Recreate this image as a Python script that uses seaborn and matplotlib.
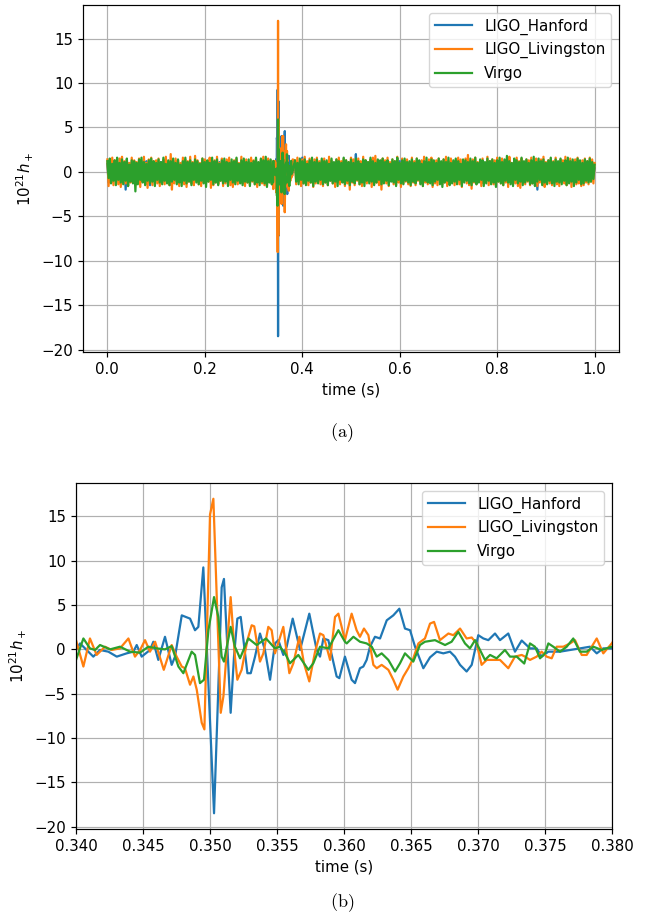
import numpy as np
import pandas as pd
import seaborn as sns
import matplotlib.pyplot as plt

detectors = ["LIGO_Hanford", "LIGO_Livingston", "Virgo"]
colors = ["#1f77b4", "#ff7f0e", "#2ca02c"]

# noise before/after the event: the band is drawn as
# crest samples at t0 + k*5ms and trough samples half a step later
noise_step = 0.005
noise_a_start = 0.0
noise_b_start = 0.385

hanford_upper_a = [
    0.9, 0.6, 1.1, 0.8, 0.7, 1.0, 0.5, 0.9, 0.6, 1.0, 0.7, 1.1,
    0.8, 1.0, 0.5, 0.9, 1.2, 0.6, 0.8, 1.0, 0.7, 0.9, 1.1, 0.6,
    0.8, 1.0, 0.5, 0.9, 1.2, 0.7, 0.6, 1.0, 0.8, 0.9, 1.1, 0.7,
    0.5, 1.0, 0.9, 0.6, 1.2, 0.8, 0.7, 1.0, 0.9, 0.6, 1.1, 0.8,
    0.5, 1.0, 0.7, 0.9, 1.2, 0.6, 0.8, 1.0, 0.7, 1.1, 0.9, 0.6,
    0.8, 1.0, 0.7, 0.9, 1.1, 0.6, 0.8, 0.9]
hanford_lower_a = [
    -1.2, -0.8, -0.5, -0.9, -0.6, -1.1, -0.7, -2.0, -0.9, -0.6, -1.0, -0.8,
    -1.1, -0.7, -0.9, -0.5, -1.0, -1.5, -0.8, -0.6, -0.9, -1.1, -0.4, -0.9,
    -0.6, -1.0, -0.8, -0.7, -1.1, -0.5, -0.9, -0.7, -1.0, -0.6, -1.1, -0.8,
    -0.9, -0.6, -1.2, -0.5, -0.8, -1.0, -0.7, -0.9, -1.1, -0.6, -0.8, -1.0,
    -0.7, -0.9, -1.1, -0.6, -0.8, -1.0, -0.7, -1.2, -0.6, -0.9, -0.8, -1.0,
    -0.9, -0.7, -1.0, -0.6, -0.8, -1.1, -0.7, -0.9]
hanford_upper_b = [
    0.8, 1.0, 0.9, 1.6, 0.7, 0.9, 1.1, 0.6, 0.8, 1.0, 0.5, 0.9,
    1.0, 0.7, 0.6, 1.1, 0.9, 0.5, 0.8, 1.0, 1.2, 0.8, 0.6, 0.9,
    0.7, 2.0, 0.9, 0.6, 1.0, 0.8, 0.5, 1.1, 0.8, 0.7, 1.3, 0.9,
    0.6, 1.0, 0.9, 0.5, 1.1, 0.8, 0.7, 1.2, 0.6, 0.9, 1.0, 0.7,
    0.8, 1.0, 0.5, 0.9, 1.2, 0.6, 0.9, 1.1, 0.7, 0.8, 1.0, 0.6,
    0.9, 1.0, 0.6, 0.8, 1.1, 0.7, 0.5, 1.2, 0.8, 0.9, 1.0, 0.6,
    0.7, 1.1, 0.9, 0.5, 1.0, 0.8, 0.6, 1.0, 1.2, 0.7, 0.8, 0.9,
    0.6, 1.1, 1.0, 0.7, 0.9, 0.8, 0.5, 1.0, 1.1, 0.6, 0.8, 1.2,
    0.7, 0.9, 1.0, 0.6, 0.8, 0.6, 1.0, 0.9, 0.7, 1.1, 0.8, 0.5,
    1.0, 0.8, 0.6, 1.0, 0.9, 0.7, 1.1, 0.6, 0.8, 1.0, 0.7, 0.9,
    1.0, 0.6, 0.8, 0.4]
hanford_lower_b = [
    -0.4, -0.7, -0.3, -0.5, -1.0, -0.8, -0.9, -0.6, -0.9, -0.4, -0.7, -1.0,
    -0.6, -0.3, -0.8, -1.1, -0.5, -0.7, -0.9, -0.7, -0.4, -0.9, -1.1, -0.5,
    -0.3, -0.8, -0.7, -0.4, -1.0, -0.6, -0.8, -1.0, -0.8, -0.3, -0.5, -0.9,
    -1.1, -0.5, -0.4, -0.7, -0.9, -1.0, -0.3, -0.6, -0.7, -0.8, -1.0, -0.8,
    -0.5, -0.9, -0.6, -0.4, -1.1, -0.7, -0.9, -0.5, -0.8, -1.0, -0.4, -0.3,
    -0.9, -0.6, -0.7, -1.1, -0.3, -0.8, -1.0, -0.4, -0.5, -0.9, -0.6, -0.8,
    -0.8, -1.0, -0.4, -0.7, -1.1, -0.3, -0.6, -0.9, -0.7, -0.5, -1.0, -0.8,
    -0.7, -0.4, -0.9, -1.1, -0.5, -0.6, -0.3, -1.0, -0.8, -0.9, -0.6, -0.7,
    -1.0, -0.5, -0.4, -2.0, -0.7, -0.3, -1.1, -0.8, -0.6, -0.6, -0.9, -1.0,
    -0.5, -0.4, -0.8, -0.7, -0.3, -1.1, -0.6, -0.5, -1.0, -0.9, -0.4, -0.8,
    -0.7, -0.6, -0.3]

livingston_upper_a = [
    1.4, 1.1, 1.6, 1.3, 1.0, 1.5, 1.7, 1.2, 1.4, 1.0, 1.6, 1.3,
    1.1, 1.5, 1.2, 1.7, 1.0, 1.4, 1.6, 1.2, 1.3, 1.5, 1.0, 1.4,
    1.7, 1.2, 2.0, 1.1, 1.5, 1.3, 1.0, 1.6, 1.4, 1.2, 1.7, 1.1,
    1.8, 1.3, 1.0, 1.5, 1.4, 1.2, 1.6, 1.1, 1.3, 1.7, 1.0, 1.5,
    1.2, 1.4, 1.6, 1.1, 1.3, 1.5, 1.0, 1.7, 1.2, 1.4, 1.1, 1.6,
    1.3, 1.5, 1.0, 1.4, 1.7, 1.2, 1.5, 1.3]
livingston_lower_a = [
    -1.6, -1.2, -1.5, -1.0, -1.4, -1.7, -1.1, -1.3, -1.6, -1.2, -1.0, -1.5,
    -1.3, -1.7, -1.1, -1.4, -1.8, -1.2, -1.5, -1.0, -1.3, -1.6, -1.2, -1.4,
    -1.1, -1.5, -2.0, -1.3, -1.0, -1.6, -1.2, -1.4, -1.7, -1.1, -1.3, -1.5,
    -1.0, -1.4, -1.6, -1.2, -1.3, -1.1, -1.8, -1.5, -1.2, -1.4, -1.0, -1.6,
    -1.3, -1.1, -1.5, -1.7, -1.2, -1.4, -1.0, -1.3, -1.6, -1.2, -1.5, -1.1,
    -1.4, -1.7, -1.2, -1.3, -1.5, -1.6, -1.1, -1.4]
livingston_upper_b = [
    1.3, 1.6, 1.1, 1.4, 1.7, 1.2, 1.5, 1.0, 1.4, 1.6, 1.2, 1.3,
    1.5, 1.1, 1.7, 1.3, 1.0, 1.4, 1.6, 1.2, 1.5, 1.3, 1.1, 1.6,
    1.4, 1.0, 1.5, 1.2, 1.7, 1.3, 1.1, 1.4, 1.6, 1.8, 1.2, 1.0,
    1.5, 1.3, 1.6, 1.1, 1.4, 1.2, 1.7, 1.0, 1.5, 1.3, 1.4, 1.1,
    1.6, 1.2, 1.5, 1.0, 1.3, 1.7, 1.1, 1.4, 1.6, 1.2, 1.3, 1.5,
    1.0, 1.4, 1.7, 1.2, 1.5, 1.1, 1.3, 1.6, 1.4, 1.0, 1.5, 1.9,
    1.2, 1.4, 1.6, 1.1, 1.3, 1.5, 1.0, 1.7, 1.2, 1.4, 1.3, 1.6,
    1.1, 1.5, 1.2, 1.4, 1.7, 1.0, 1.3, 1.6, 1.2, 1.5, 1.1, 1.4,
    1.3, 1.6, 1.0, 1.5, 1.2, 1.4, 1.7, 1.1, 1.3, 1.5, 1.2, 1.6,
    1.0, 1.4, 1.3, 1.7, 1.1, 1.5, 1.2, 1.4, 1.6, 1.0, 1.3, 1.5,
    1.2, 1.6, 1.4, 1.0]
livingston_lower_b = [
    -1.4, -1.1, -1.6, -1.3, -1.0, -1.5, -1.2, -1.7, -1.3, -1.1, -1.4, -1.6,
    -1.2, -1.5, -1.0, -1.3, -1.7, -1.2, -1.4, -1.1, -1.6, -1.3, -2.0, -1.2,
    -1.5, -1.0, -1.4, -1.6, -1.2, -1.3, -1.1, -1.7, -1.4, -1.2, -1.5, -2.0,
    -1.1, -1.3, -1.6, -1.0, -1.4, -1.5, -1.2, -1.7, -1.3, -1.1, -1.4, -1.6,
    -1.2, -1.5, -1.0, -1.3, -1.6, -1.2, -1.4, -1.1, -1.7, -1.3, -1.5, -1.0,
    -1.4, -1.2, -1.6, -1.3, -1.1, -1.5, -1.2, -1.4, -1.7, -1.0, -1.3, -1.5,
    -1.9, -1.2, -1.4, -1.1, -1.6, -1.3, -1.0, -1.5, -1.2, -1.4, -1.6, -1.1,
    -1.3, -1.5, -1.2, -1.7, -1.0, -1.4, -1.3, -1.6, -1.8, -1.2, -1.4, -1.1,
    -1.5, -1.3, -1.0, -1.6, -1.2, -1.4, -1.7, -1.1, -1.3, -1.5, -1.2, -1.4,
    -1.6, -1.0, -1.3, -1.5, -1.2, -1.7, -1.1, -1.4, -1.3, -1.6, -1.5, -1.2,
    -1.4, -1.1, -1.3]

virgo_upper_a = [
    1.2, 1.5, 0.9, 1.3, 1.6, 1.0, 1.4, 1.1, 1.5, 0.8, 1.3, 1.2,
    1.0, 1.4, 1.6, 1.1, 0.9, 1.3, 1.5, 1.2, 1.0, 1.4, 1.1, 1.6,
    0.9, 1.3, 1.2, 1.5, 1.0, 1.4, 0.8, 1.2, 1.6, 1.1, 1.3, 1.0,
    1.4, 1.2, 0.9, 1.5, 1.1, 1.3, 1.0, 1.6, 1.2, 1.4, 0.9, 1.3,
    1.5, 1.1, 1.0, 1.4, 1.2, 1.6, 0.9, 1.3, 1.5, 1.1, 1.4, 1.0,
    1.2, 1.6, 1.1, 1.5, 1.3, 1.7, 1.2, 1.4]
virgo_lower_a = [
    -0.7, -1.3, -1.0, -1.5, -0.9, -1.2, -1.4, -1.0, -1.6, -1.1, -1.3, -2.2,
    -1.4, -0.9, -1.2, -1.5, -1.0, -1.3, -1.1, -1.6, -0.9, -1.2, -1.4, -1.0,
    -1.3, -1.5, -1.1, -0.9, -1.4, -1.2, -1.6, -1.0, -1.3, -1.1, -1.5, -0.9,
    -1.2, -1.4, -1.0, -1.3, -1.7, -1.1, -0.9, -1.4, -1.2, -1.5, -1.0, -1.3,
    -1.1, -1.6, -0.9, -1.2, -1.4, -1.0, -1.3, -1.5, -1.1, -1.2, -1.6, -1.0,
    -1.4, -1.2, -1.5, -1.1, -1.3, -1.7, -1.2, -1.4]
virgo_upper_b = [
    1.3, 1.0, 1.5, 1.2, 1.4, 0.9, 1.3, 1.6, 1.1, 1.4, 1.0, 1.5,
    1.2, 1.3, 0.9, 1.5, 1.1, 1.4, 1.2, 1.0, 1.6, 1.3, 1.1, 1.4,
    1.0, 1.5, 1.2, 0.9, 1.4, 1.3, 1.1, 1.6, 1.2, 1.0, 1.4, 1.3,
    1.5, 1.1, 1.3, 0.9, 1.4, 1.2, 1.6, 1.0, 1.3, 1.5, 1.1, 1.2,
    1.4, 1.0, 1.5, 1.3, 0.9, 1.2, 1.6, 1.1, 1.4, 1.3, 1.0, 1.5,
    1.2, 1.4, 1.1, 1.6, 1.0, 1.3, 1.5, 1.2, 0.9, 1.4, 1.3, 1.1,
    1.5, 1.2, 1.6, 1.0, 1.4, 1.3, 1.1, 1.5, 1.2, 1.4, 1.0, 1.3,
    1.6, 1.1, 1.4, 1.8, 1.2, 1.0, 1.5, 1.3, 1.1, 1.6, 1.2, 1.4,
    1.0, 1.3, 1.7, 1.1, 1.5, 1.2, 1.4, 1.0, 1.3, 1.6, 1.1, 1.4,
    1.2, 1.5, 1.0, 1.3, 1.6, 1.2, 1.4, 1.1, 1.5, 1.3, 1.0, 1.4,
    1.2, 1.5, 1.1, 0.8]
virgo_lower_b = [
    -1.1, -1.4, -0.9, -1.3, -1.5, -1.0, -1.2, -1.6, -1.1, -1.3, -0.9, -1.4,
    -1.2, -1.5, -1.0, -1.3, -1.1, -1.6, -0.9, -1.2, -1.4, -1.0, -1.5, -1.1,
    -1.3, -0.9, -1.4, -1.2, -1.6, -1.0, -1.3, -1.1, -1.5, -1.2, -0.9, -1.4,
    -1.3, -1.0, -1.5, -1.1, -1.2, -1.6, -0.9, -1.3, -1.4, -1.0, -1.2, -1.5,
    -1.1, -1.3, -0.9, -1.4, -1.6, -1.0, -1.2, -1.3, -1.5, -1.1, -0.9, -1.4,
    -1.7, -1.2, -1.0, -1.5, -1.3, -1.1, -1.4, -0.9, -1.6, -1.2, -1.0, -1.3,
    -1.5, -1.1, -1.4, -1.2, -0.9, -1.6, -1.3, -1.0, -1.4, -1.2, -1.7, -1.1,
    -1.3, -1.5, -1.0, -1.2, -1.4, -1.6, -0.9, -1.3, -1.1, -1.5, -1.2, -1.0,
    -1.4, -1.3, -1.6, -1.1, -0.9, -1.5, -1.2, -1.4, -1.0, -1.3, -1.6, -1.1,
    -1.2, -1.4, -1.0, -1.5, -1.3, -1.1, -1.6, -1.2, -0.9, -1.4, -1.3, -1.0,
    -1.2, -1.1, -0.8]

# the event itself: time in ms after 0.340 s, strain
zoom_origin = 0.340
hanford_t_ms = [
    -0.3, 0.00, 0.30, 1.29, 1.79, 2.41, 3.04, 3.78, 4.28, 4.53, 4.90, 5.52,
    5.77, 6.14, 6.64, 7.14, 7.39, 7.89, 8.51, 8.88, 9.13, 9.50, 10.30, 10.55,
    10.87, 11.04, 11.54, 11.79, 12.04, 12.29, 12.79, 13.04, 13.36, 13.73, 14.10, 14.48,
    14.85, 15.10, 15.47, 15.72, 16.17, 16.72, 17.41, 17.96, 18.21, 18.46, 18.83, 19.45,
    19.65, 20.07, 20.57, 20.82, 21.19, 21.44, 21.69, 21.94, 22.31, 22.69, 23.19, 23.68,
    24.13, 24.55, 24.93, 25.30, 25.92, 26.42, 26.92, 27.41, 27.91, 28.28, 28.66, 29.15,
    29.53, 30.02, 30.40, 30.77, 31.27, 31.64, 32.26, 32.76, 33.26, 33.88, 34.38, 34.75,
    35.25, 35.62, 36.12, 36.87, 37.61, 38.36, 38.86, 39.35, 39.98, 40.30]
hanford_zoom = [
    0.3, -0.07, 0.67, -0.82, -0.07, -0.26, -0.82, -0.45, -0.26, 0.49, -0.82, -0.07,
    0.86, -1.19, 1.42, -1.75, -0.82, 3.84, 3.47, 2.16, 2.54, 9.25, -18.5, -7.5,
    7.0, 7.95, -7.16, -0.82, 3.47, 3.66, -2.69, -2.69, -0.82, 1.79, -0.07, -3.43,
    0.67, 1.04, -0.63, 0.30, 3.47, -0.07, 4.03, -0.07, -0.82, 1.23, 1.04, -3.06,
    -3.25, -0.82, -3.43, -3.81, -2.13, -1.94, -1.19, 0.30, 1.42, 1.23, 3.28, 3.84,
    4.59, 2.35, 2.16, 0.30, -2.13, -0.9, -0.26, -0.45, -0.26, -0.82, -1.75, -2.50,
    -1.75, 1.60, 1.23, 1.04, 1.79, 1.04, 1.79, -0.26, 1.0, 0.11, 0.11, -0.82,
    -0.26, -0.26, -0.26, -0.07, 0.11, 0.30, -0.45, 0.11, 0.11, -0.07]

livingston_t_ms = [
    -0.3, 0.00, 0.55, 1.04, 1.54, 2.16, 2.66, 3.28, 3.91, 4.40, 4.78, 5.15,
    5.52, 5.90, 6.55, 7.14, 7.51, 7.89, 8.13, 8.51, 8.76, 9.01, 9.38, 9.58,
    10.00, 10.25, 10.80, 11.00, 11.54, 11.86, 12.04, 12.36, 12.79, 13.11, 13.30, 13.73,
    13.98, 14.35, 14.60, 14.85, 15.47, 15.92, 16.22, 16.67, 17.01, 17.41, 17.84, 18.21,
    18.46, 18.96, 19.33, 19.58, 20.07, 20.57, 20.94, 21.19, 21.49, 21.82, 22.19, 22.44,
    22.81, 23.31, 23.68, 24.00, 24.43, 24.80, 25.17, 25.55, 26.04, 26.42, 26.72, 27.16,
    27.79, 28.16, 28.66, 29.15, 29.53, 29.90, 30.27, 30.65, 31.14, 31.64, 32.26, 32.76,
    33.26, 33.51, 33.88, 34.38, 34.75, 35.12, 35.50, 35.87, 36.37, 36.87, 37.24, 37.74,
    38.11, 38.86, 39.35, 39.98, 40.30]
livingston_zoom = [
    0.0, 1.04, -1.94, 1.23, -0.63, 0.30, -0.07, 0.11, 1.23, -0.82, -0.07, 1.04,
    -0.26, 0.86, -2.31, 0.49, -0.82, -1.94, -2.13, -3.99, -3.06, -4.55, -8.28, -9.03,
    15.22, 17.0, -7.16, -5.30, 5.90, -0.82, -3.43, -2.31, 1.04, 2.72, 2.6, -1.38,
    -0.45, 2.54, 2.16, -0.45, 2.54, -2.69, -1.57, 1.42, -1.57, -3.62, -0.26, 1.79,
    1.60, -1.19, 3.66, 4.03, 1.04, 4.03, 2.16, 1.42, 2.35, 1.60, -1.75, -2.13,
    -1.75, -2.31, -3.43, -4.55, -3.06, -2.13, -1.01, 0.67, 1.23, 2.91, 3.10, 1.04,
    1.79, 1.60, 2.35, 1.23, 1.34, 0.67, -1.75, -1.19, -1.19, -1.19, -2.13, -0.82,
    -0.63, -0.82, -1.19, -0.82, -0.26, -0.82, -1.01, 0.30, 0.30, 0.67, 1.04, -0.63,
    -0.63, 1.23, -0.45, 0.67, 1.4]

virgo_t_ms = [
    -0.3, 0.00, 0.55, 1.04, 1.42, 1.79, 2.54, 3.28, 4.03, 4.78, 5.40, 6.02,
    6.64, 7.14, 7.64, 8.01, 8.63, 8.88, 9.25, 9.55, 9.88, 10.30, 10.62, 10.87,
    11.04, 11.54, 11.86, 12.24, 12.86, 13.48, 14.18, 14.85, 15.22, 15.60, 15.97, 16.59,
    17.34, 17.71, 18.21, 18.83, 19.58, 20.07, 20.20, 20.70, 21.19, 21.69, 22.07, 22.44,
    22.81, 23.31, 23.81, 24.18, 24.55, 25.17, 25.67, 26.04, 26.79, 27.54, 28.03, 28.53,
    29.03, 29.40, 29.78, 30.15, 30.52, 30.90, 31.39, 32.01, 32.39, 32.89, 33.45, 33.88,
    34.25, 34.63, 35.00, 35.25, 35.62, 36.12, 36.62, 37.11, 37.61, 38.11, 38.61, 39.23,
    39.60, 39.98, 40.30]
virgo_zoom = [
    -0.5, -1.19, 1.23, 0.11, -0.07, 0.49, 0.0, 0.30, -0.26, -0.37, 0.30, 0.11,
    0.0, 0.37, -1.94, -2.69, -0.26, -0.63, -3.81, -3.43, 2.16, 5.90, 3.66, -0.82,
    -1.38, 2.54, 0.30, -1.01, 1.23, 0.49, 1.23, 0.11, 0.30, -0.45, -1.57, -0.63,
    -2.31, -1.57, 0.30, 0.11, 2.16, 0.86, 0.67, 1.42, 0.86, 0.67, 0.30, -0.82,
    -0.45, -1.19, -2.50, -1.57, -0.45, -1.38, 0.49, 0.86, 1.04, 0.49, 0.86, 1.98,
    0.67, 0.11, 1.04, -0.07, -1.19, -0.63, -1.01, -0.07, -0.82, -0.82, -1.6, 0.67,
    0.30, -1.01, -0.45, 0.67, 0.30, -0.26, 0.30, 1.23, -0.26, -0.26, 0.30, -0.07,
    0.11, 0.30, 0.2]

noise_sets = [
    (hanford_upper_a, hanford_lower_a, hanford_upper_b, hanford_lower_b),
    (livingston_upper_a, livingston_lower_a, livingston_upper_b, livingston_lower_b),
    (virgo_upper_a, virgo_lower_a, virgo_upper_b, virgo_lower_b),
]
zoom_t = [hanford_t_ms, livingston_t_ms, virgo_t_ms]
zoom_h = [hanford_zoom, livingston_zoom, virgo_zoom]


def samples(start, values):
    return pd.DataFrame({"time": start + noise_step * np.arange(len(values)),
                         "strain": values})


full_parts, zoom_parts = [], []
for name, (ua, la, ub, lb), tz, hz in zip(detectors, noise_sets, zoom_t, zoom_h):
    z = pd.DataFrame({"time": zoom_origin + np.array(tz) / 1000.0, "strain": hz})
    zoom_parts.append(z.assign(detector=name))
    full = pd.concat([
        samples(noise_a_start, ua), samples(noise_a_start + noise_step / 2, la),
        z,
        samples(noise_b_start, ub), samples(noise_b_start + noise_step / 2, lb),
    ]).sort_values("time")
    full_parts.append(full.assign(detector=name))
df_full = pd.concat(full_parts, ignore_index=True)
df_zoom = pd.concat(zoom_parts, ignore_index=True)

plt.rcParams["font.size"] = 10.8
plt.rcParams["axes.linewidth"] = 0.86

fig = plt.figure(figsize=(6.47, 9.15), dpi=100)
ax1 = fig.add_axes([0.1283, 0.6153, 0.8284, 0.3792])
ax2 = fig.add_axes([0.1175, 0.0940, 0.8284, 0.3781])

for ax, df in [(ax1, df_full), (ax2, df_zoom)]:
    sns.lineplot(data=df, x="time", y="strain", hue="detector",
                 hue_order=detectors, palette=colors, estimator=None,
                 sort=False, linewidth=1.6, ax=ax)
    ax.grid(True, color="#b0b0b0", linewidth=0.86)
    ax.set_axisbelow(True)
    ax.set_xlabel("time (s)")
    ax.set_ylabel(r"$10^{21}h_+$")
    ax.set_yticks([-20, -15, -10, -5, 0, 5, 10, 15])
    ax.tick_params(length=3.8, width=0.86)
    handles, labels = ax.get_legend_handles_labels()
    ax.legend(handles, labels, loc="upper right", fontsize=10.8,
              handlelength=2.5)

ax1.set_xticks([0.0, 0.2, 0.4, 0.6, 0.8, 1.0])
zoom_ticks = np.round(np.arange(0.340, 0.3801, 0.005), 3)
ax2.set_xlim(0.340, 0.380)
ax2.set_xticks(zoom_ticks)
ax2.set_xticklabels([f"{v:.3f}" for v in zoom_ticks])
ax2.set_ylim(ax1.get_ylim())

fig.text(342 / 647, 1 - 433 / 915, r"$\mathrm{(a)}$", ha="center", va="center",
         fontsize=13, math_fontfamily="cm")
fig.text(342 / 647, 1 - 903 / 915, r"$\mathrm{(b)}$", ha="center", va="center",
         fontsize=13, math_fontfamily="cm")

fig.savefig("out.png", dpi=100)
